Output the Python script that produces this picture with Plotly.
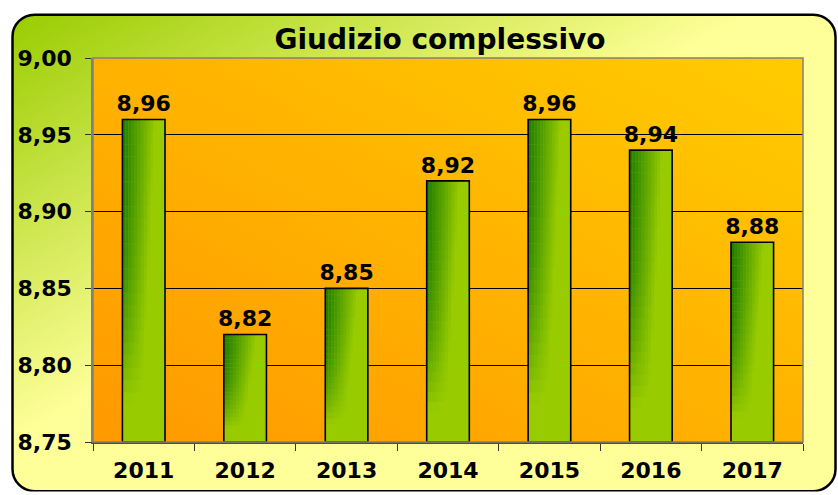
import base64
import plotly.graph_objects as go

# ---- data ----
years = ["2011", "2012", "2013", "2014", "2015", "2016", "2017"]
scores = [8.96, 8.82, 8.85, 8.92, 8.96, 8.94, 8.88]
y_ticks = [8.75, 8.80, 8.85, 8.90, 8.95, 9.00]
title_text = "Giudizio complessivo"

# ---- layout geometry ----
W, H = 838, 495
ML, MR, MT, MB = 93, 35, 58, 50
PW, PH = W - ML - MR, H - MT - MB
Y0, Y1 = y_ticks[0], y_ticks[-1]
BAR_W = 0.42
FONT = "DejaVu Sans"


def svg_uri(svg):
    return "data:image/svg+xml;base64," + base64.b64encode(svg.encode()).decode()


outer_svg = f"""<svg xmlns='http://www.w3.org/2000/svg' width='{W}' height='{H}' viewBox='0 0 {W} {H}' preserveAspectRatio='none'>
<defs><linearGradient id='g' x1='0' y1='0' x2='1' y2='1'>
<stop offset='0' stop-color='#99CC00'/><stop offset='0.45' stop-color='#FFFF99'/><stop offset='1' stop-color='#FFFF99'/>
</linearGradient></defs>
<rect x='0' y='0' width='{W}' height='{H}' fill='white'/>
<rect x='12.5' y='14.5' width='823' height='480' rx='22' ry='22' fill='url(#g)' stroke='black' stroke-width='2.5'/>
</svg>"""

plot_svg = """<svg xmlns='http://www.w3.org/2000/svg' width='100' height='100' viewBox='0 0 100 100' preserveAspectRatio='none'>
<defs><linearGradient id='p' x1='0' y1='1' x2='1' y2='0'>
<stop offset='0' stop-color='#FF9900'/><stop offset='1' stop-color='#FFCC00'/>
</linearGradient></defs>
<rect x='0' y='0' width='100' height='100' fill='url(#p)'/>
</svg>"""

fig = go.Figure()

# base light-green bars
fig.add_trace(go.Bar(
    x=years, y=[v - Y0 for v in scores], base=Y0, width=BAR_W,
    marker=dict(color="#99CC00", line=dict(width=0)),
    hoverinfo="skip", showlegend=False,
))


def darkness(xf, yf):
    """shading strength inside a bar: xf 0=left..1=right, yf 0=top..1=bottom"""
    w = 0.78 - 0.35 * yf
    hx = max(0.0, 1.0 - xf / w)
    hy = max(0.0, 1.0 - (yf / 0.88) ** 2.5)
    return 0.88 * hx * hy


# dark green shading cells (gradient approximation)
NX, NY = 14, 26
for i in range(NX):
    xf = (i + 0.5) / NX
    for j in range(NY):
        yf = (j + 0.5) / NY
        d = darkness(xf, yf)
        if d < 0.012:
            continue
        fig.add_trace(go.Bar(
            x=years,
            y=[(v - Y0) / NY for v in scores],
            base=[v - (j + 1) * (v - Y0) / NY for v in scores],
            width=BAR_W / NX, offset=-BAR_W / 2 + i * BAR_W / NX,
            marker=dict(color=f"rgba(10,112,0,{d:.3f})", line=dict(width=0)),
            hoverinfo="skip", showlegend=False,
        ))

# outline + labels
fig.add_trace(go.Bar(
    x=years, y=[v - Y0 for v in scores], base=Y0, width=BAR_W,
    marker=dict(color="rgba(0,0,0,0)", line=dict(color="black", width=1.6)),
    text=[f"{v:.2f}".replace(".", ",") for v in scores],
    textposition="outside", constraintext="none", cliponaxis=False,
    textfont=dict(family=FONT, size=22, color="black", weight="bold"),
    showlegend=False,
))

fig.update_layout(
    width=W, height=H,
    margin=dict(l=ML, r=MR, t=MT, b=MB, pad=0),
    barmode="overlay",
    separators=",.",
    paper_bgcolor="white",
    plot_bgcolor="rgba(0,0,0,0)",
    title=dict(text=title_text, x=440 / W, xanchor="center", y=1 - 39 / H, yanchor="middle",
               xref="container", yref="container",
               font=dict(family=FONT, size=28, color="black", weight="bold")),
    images=[
        dict(source=svg_uri(outer_svg), xref="paper", yref="paper",
             x=-ML / PW, y=1 + MT / PH, sizex=W / PW, sizey=H / PH,
             xanchor="left", yanchor="top", sizing="stretch", layer="below"),
        dict(source=svg_uri(plot_svg), xref="paper", yref="paper",
             x=0, y=1, sizex=1, sizey=1,
             xanchor="left", yanchor="top", sizing="stretch", layer="below"),
    ],
    shapes=[
        dict(type="rect", xref="paper", yref="paper", x0=0, x1=1, y0=0, y1=1,
             line=dict(color="#808080", width=1.5), fillcolor="rgba(0,0,0,0)", layer="above"),
    ],
    xaxis=dict(
        type="category", tickson="boundaries", ticks="outside", ticklen=7,
        tickcolor="#333333", tickwidth=1, showgrid=False,
        showline=True, linecolor="#5a4a30", linewidth=1.5,
        tickfont=dict(family=FONT, size=22, color="black", weight="bold"),
        ticklabelstandoff=8,
    ),
    yaxis=dict(
        range=[Y0, Y1], tickvals=y_ticks, tickformat=".2f",
        ticks="outside", ticklen=6, tickcolor="#333333", tickwidth=1,
        showgrid=True, gridcolor="black", gridwidth=1,
        showline=True, linecolor="#808080", linewidth=1.5,
        zeroline=False,
        tickfont=dict(family=FONT, size=22, color="black", weight="bold"),
        ticklabelstandoff=9,
    ),
)

fig.write_html("out.html", config={"displayModeBar": False},
               post_script="document.body.style.margin='0';document.body.style.padding='0';")
